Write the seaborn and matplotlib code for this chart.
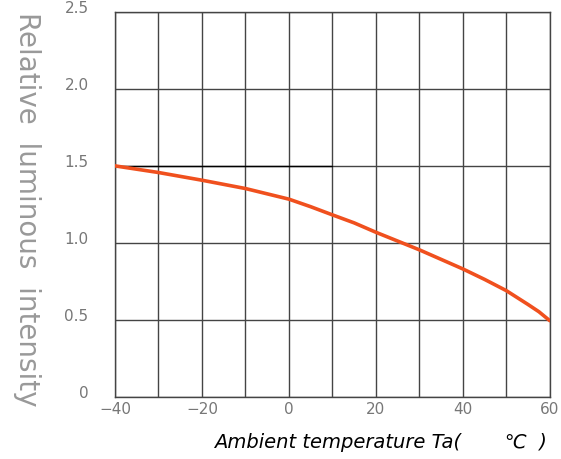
import matplotlib
matplotlib.use("Agg")
import matplotlib.pyplot as plt
import matplotlib.transforms as mtransforms
import pandas as pd
import seaborn as sns

# values
temperature = [-40, -30, -20, -10, 0, 5, 10, 15, 20, 30, 40, 45, 50, 55, 57.5, 60]
intensity = [1.50, 1.457, 1.407, 1.353, 1.284, 1.235, 1.182, 1.13, 1.069,
             0.955, 0.831, 0.763, 0.69, 0.60, 0.553, 0.495]

x_ticks = [-40, -20, 0, 20, 40, 60]
x_tick_labels = ["\u221240", "\u221220", "0", "20", "40", "60"]
y_ticks = [0, 0.5, 1.0, 1.5, 2.0, 2.5]
y_tick_labels = ["0", "0.5", "1.0", "1.5", "2.0", "2.5"]

df = pd.DataFrame({"Ta": temperature, "Iv": intensity})

sns.set_style("white")
plt.rcParams["font.family"] = ["DejaVu Sans"]

fig = plt.figure(figsize=(5.61, 4.60), dpi=100)
ax = fig.add_axes([0.205, 0.135, 0.775, 0.837])

# grid every 10 degC and every 0.5
for gx in range(-40, 61, 10):
    ax.axvline(gx, color="#444444", lw=1.0, zorder=1)
for gy in y_ticks:
    ax.axhline(gy, color="#444444", lw=1.0, zorder=1)
# darker stub of the 1.5 line
ax.plot([-40, 10], [1.5, 1.5], color="black", lw=1.0, zorder=2)

sns.lineplot(data=df, x="Ta", y="Iv", color="#F0501E", lw=2.6, ax=ax, zorder=3)

ax.set_xlim(-40, 60)
ax.set_ylim(0, 2.5)
ax.set_xticks(x_ticks)
ax.set_xticklabels(x_tick_labels)
ax.set_yticks(y_ticks)
ax.set_yticklabels(y_tick_labels)
ax.tick_params(axis="both", length=0, labelsize=11, labelcolor="#777777")
ax.tick_params(axis="y", pad=19)
ax.tick_params(axis="x", pad=3)
# y tick labels sit a little above their grid lines
shift = mtransforms.ScaledTranslation(0, 6 / 100, fig.dpi_scale_trans)
for lbl in ax.get_yticklabels():
    lbl.set_transform(lbl.get_transform() + shift)

for s in ax.spines.values():
    s.set_color("#444444")
    s.set_linewidth(1.0)

ax.set_ylabel("Relative  luminous  intensity", fontsize=20, color="#999999",
              rotation=270)
ax.yaxis.set_label_coords(-0.235, 0.49)
ax.set_xlabel("Ambient temperature Ta(       \u2103  )", fontsize=14, color="black",
              style="italic")
ax.xaxis.set_label_coords(0.61, -0.09)

fig.savefig("out.png", dpi=100)
